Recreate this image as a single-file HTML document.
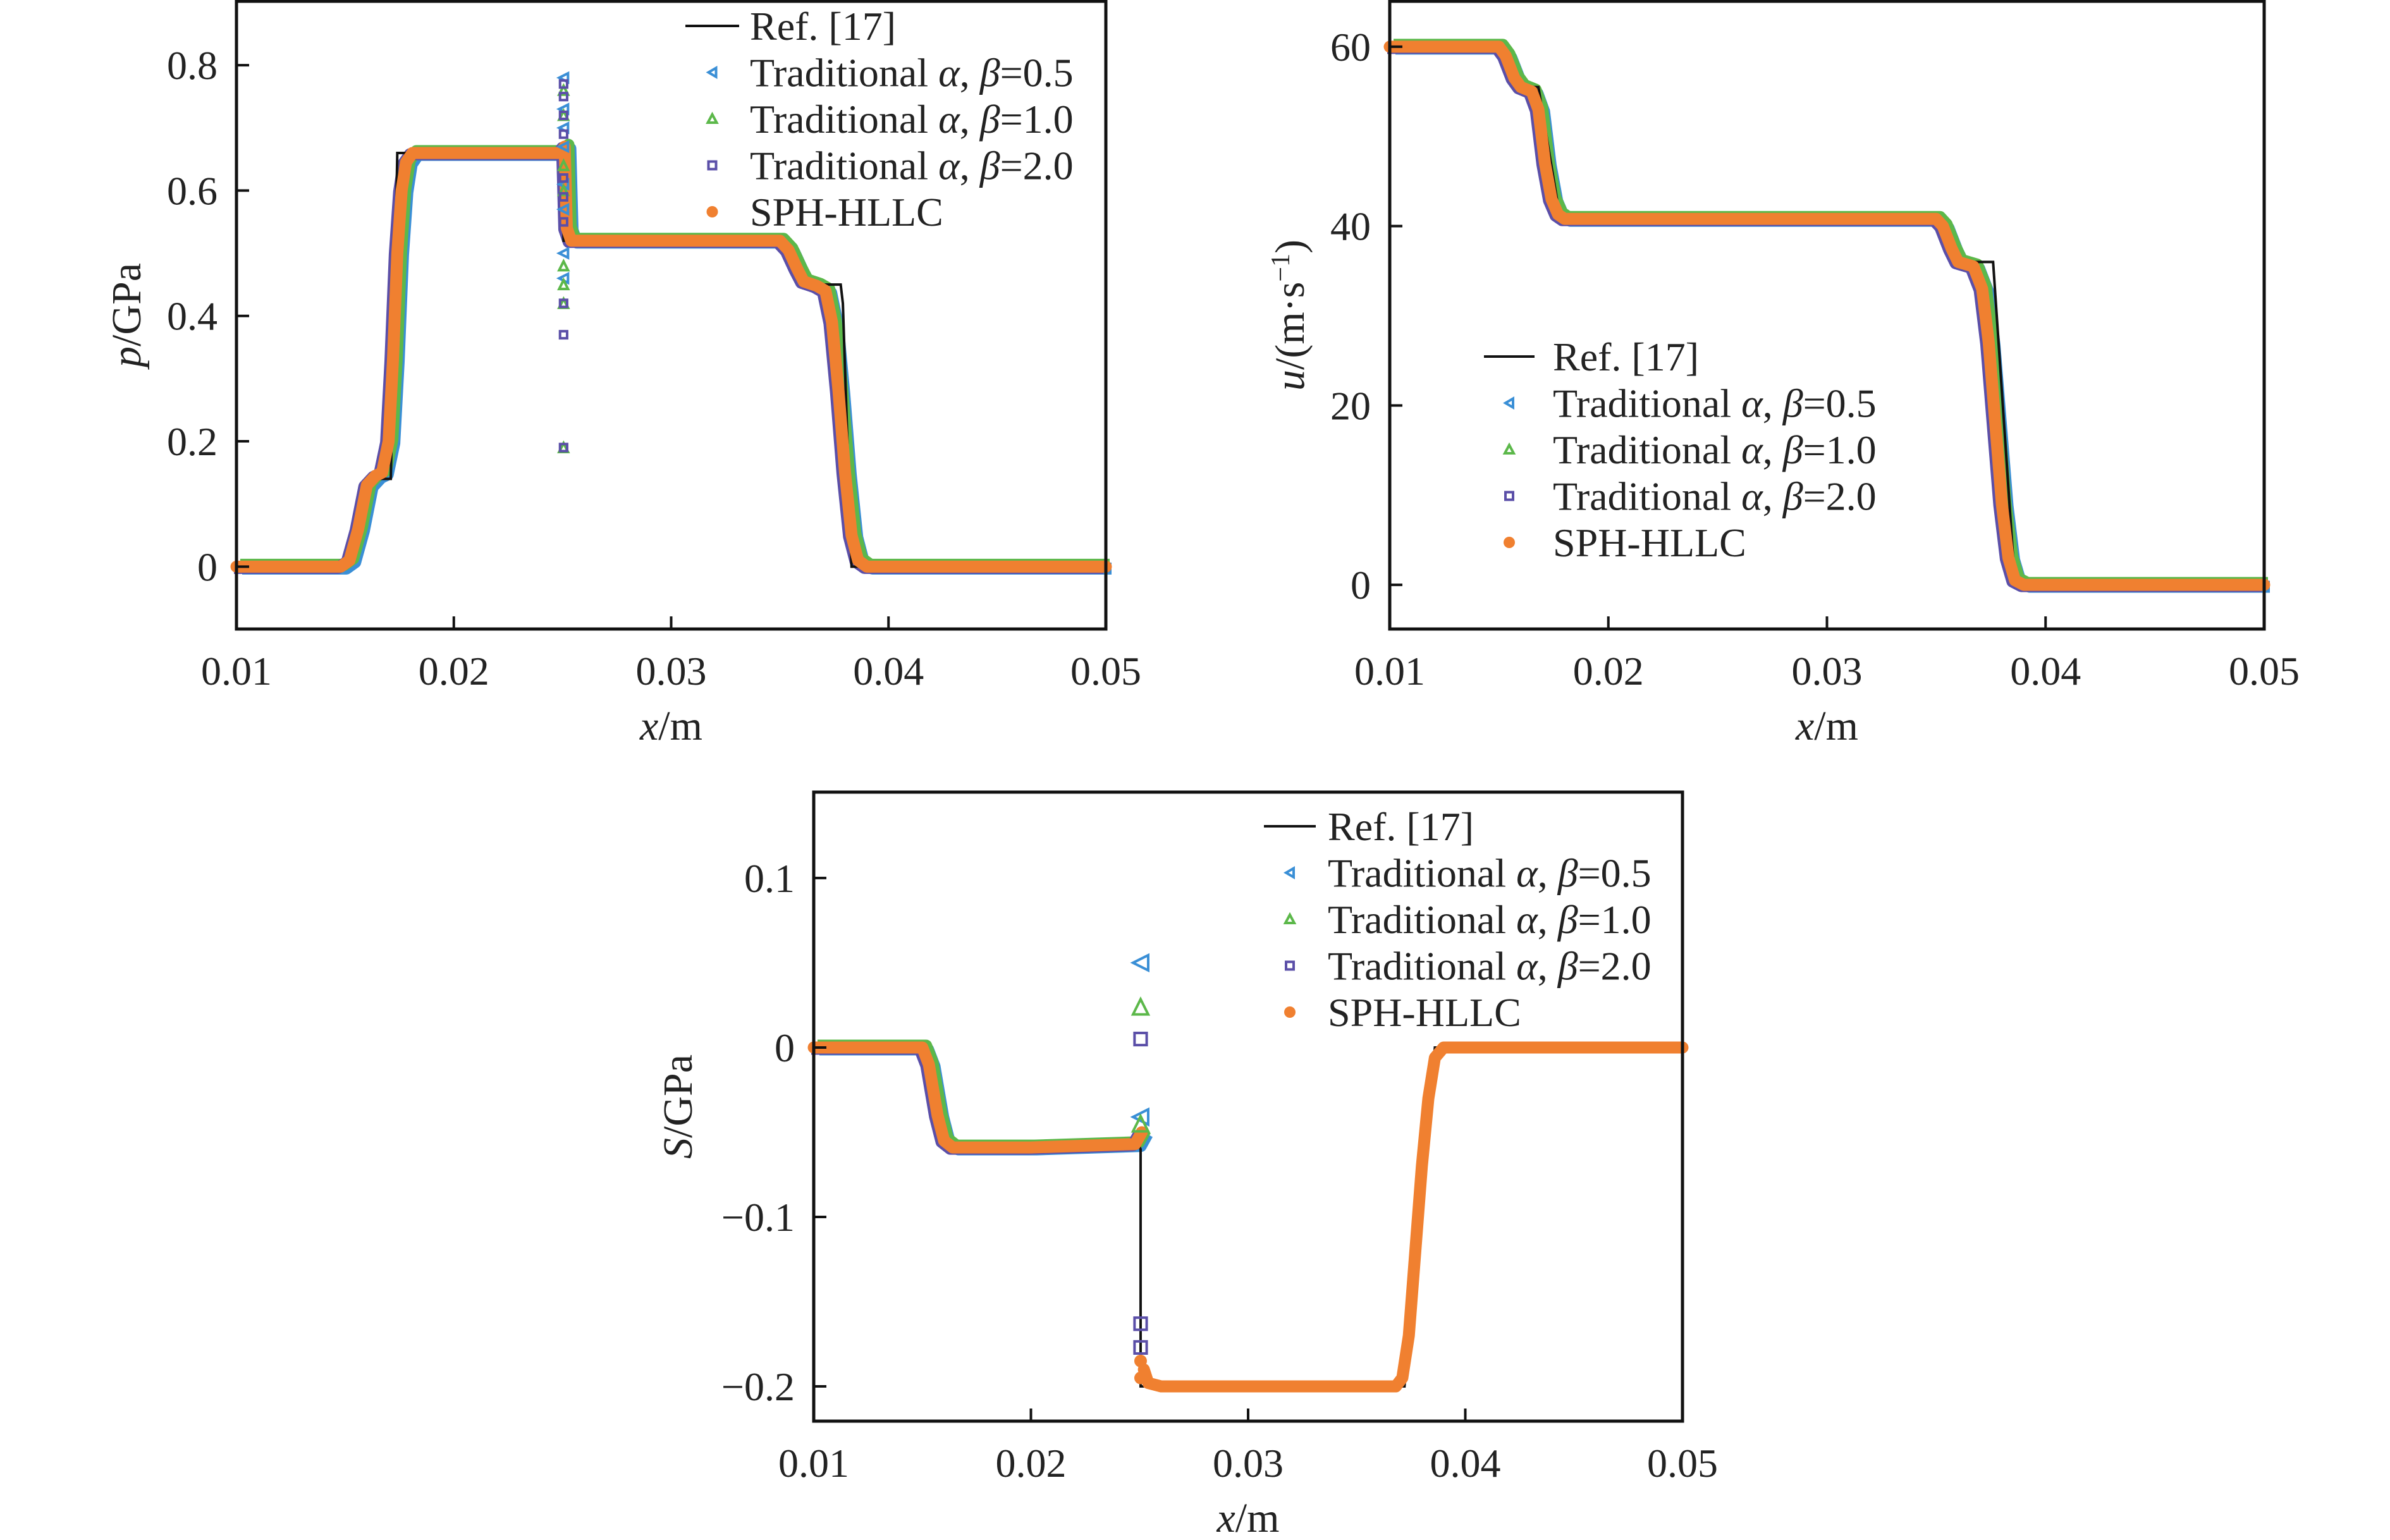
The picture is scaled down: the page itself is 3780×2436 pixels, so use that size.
<!DOCTYPE html>
<html><head><meta charset="utf-8"><style>
body{margin:0;background:#fff}
svg{display:block}
text{font-family:"Liberation Serif",serif;fill:#222}
</style></head><body>
<svg id="fig" width="3780" height="2436" viewBox="0 0 3780 2436" xmlns="http://www.w3.org/2000/svg"></svg>
<script>
// ---------- data ----------
const xTicks=[0.01,0.02,0.03,0.04,0.05];
const xTickLabels=["0.01","0.02","0.03","0.04","0.05"];
// pressure panel
const pTicks=[0,0.2,0.4,0.6,0.8];
const pTickLabels=["0","0.2","0.4","0.6","0.8"];
const pRefX=[0.01,0.0150,0.0160,0.0163,0.0171,0.0172,0.0174,0.0250,0.02505,0.0252,0.0352,0.0358,0.0362,0.0378,0.0379,0.0383,0.05];
const pRefY=[0,0,0.13,0.14,0.14,0.3,0.66,0.66,0.52,0.52,0.52,0.47,0.45,0.45,0.42,0,0];
const pSphX=[0.01,0.0148,0.0152,0.0156,0.0160,0.0164,0.0167,0.0170,0.0172,0.0174,0.0176,0.0178,0.0181,0.0185,0.0249,0.0251,0.0252,0.0254,0.0350,0.0354,0.0358,0.0361,0.0367,0.0371,0.0374,0.0377,0.0380,0.0383,0.0386,0.0390,0.05];
const pSphY=[0,0,0.01,0.06,0.13,0.145,0.15,0.2,0.33,0.5,0.6,0.645,0.66,0.66,0.66,0.67,0.54,0.52,0.52,0.505,0.475,0.455,0.448,0.44,0.39,0.28,0.15,0.05,0.01,0,0];
const pSpikeBlue=[0.78,0.73,0.70,0.67,0.61,0.57,0.50,0.46];
const pSpikeGreen=[0.76,0.72,0.64,0.60,0.48,0.45,0.42,0.19];
const pSpikePurple=[0.77,0.75,0.72,0.69,0.62,0.59,0.55,0.42,0.37,0.19];
// velocity panel
const uTicks=[0,20,40,60];
const uTickLabels=["0","20","40","60"];
const uRefX=[0.01,0.0150,0.0160,0.0168,0.0178,0.0352,0.0360,0.0376,0.0386,0.05];
const uRefY=[60,60,55.5,55.5,40.8,40.8,36,36,0,0];
const uSphX=[0.01,0.0150,0.0153,0.0157,0.0160,0.0165,0.0168,0.0171,0.0174,0.0177,0.0180,0.0350,0.0353,0.0357,0.0360,0.0367,0.0371,0.0374,0.0377,0.0380,0.0383,0.0386,0.0390,0.05];
const uSphY=[60,60,59,56.5,55.5,55,53,47,43,41.3,40.8,40.8,40,37.5,36,35.5,33,27,18,9,3,0.5,0,0];
// stress panel
const sTicks=[-0.2,-0.1,0,0.1];
const sTickLabels=["\u22120.2","\u22120.1","0","0.1"];
const sRefX=[0.01,0.0152,0.0162,0.0249,0.02505,0.02505,0.0372,0.0386,0.05];
const sRefY=[0,0,-0.058,-0.056,-0.06,-0.2,-0.2,0,0];
const sSphX=[0.01,0.0150,0.0153,0.0157,0.0160,0.0164,0.0200,0.0248,0.0251];
const sSphY=[0,0,-0.01,-0.04,-0.055,-0.059,-0.059,-0.057,-0.05];
const sSph2X=[0.0252,0.0254,0.0260,0.0368,0.0371,0.0374,0.0377,0.0380,0.0383,0.0386,0.0390,0.05];
const sSph2Y=[-0.19,-0.198,-0.2,-0.2,-0.195,-0.17,-0.12,-0.07,-0.03,-0.006,0,0];
const sSpikeBlue=[0.05,-0.041];
const sSpikeGreen=[0.024,-0.045];
const sSpikePurple=[0.005,-0.163,-0.177];

// ---------- drawing ----------
const NS="http://www.w3.org/2000/svg";
const svg=document.getElementById('fig');
const C={blue:"#3a8fd6",green:"#5cb84a",purple:"#5b4fa8",orange:"#f08030"};
const FS=64;
function el(t,a,p){const e=document.createElementNS(NS,t);for(const k in a)e.setAttribute(k,a[k]);(p||svg).appendChild(e);return e;}
function panel(o){
  const g=el('g',{});
  
  
  const sx=v=>o.L+(v-0.01)/(0.04)*(o.R-o.L);
  const sy=v=>o.B-(v-o.ymin)/(o.ymax-o.ymin)*(o.B-o.T);
  const pts=(X,Y,dx,dy)=>X.map((x,i)=>(sx(x)+(dx||0))+','+(sy(Y[i])+(dy||0))).join(' ');
  const s1=el('polyline',{points:pts(o.sx,o.sy,9,3),fill:'none',stroke:C.blue,'stroke-width':19,'stroke-linejoin':'round'},g);
  
  
  const s2=el('polyline',{points:pts(o.sx,o.sy,6,-3),fill:'none',stroke:C.green,'stroke-width':19,'stroke-linejoin':'round'},g);
  
  
  const s3=el('polyline',{points:pts(o.sx,o.sy,-4,2),fill:'none',stroke:C.purple,'stroke-width':19,'stroke-linejoin':'round'},g);
  
  
  const r=el('polyline',{points:pts(o.rx,o.ry),fill:'none',stroke:'#111','stroke-width':4},g);
  
  
  const s4=el('polyline',{points:pts(o.sx,o.sy),fill:'none',stroke:C.orange,'stroke-width':19,'stroke-linejoin':'round','stroke-linecap':'round'},g);
  
  
  if(o.sx2){const s5=el('polyline',{points:pts(o.sx2,o.sy2),fill:'none',stroke:C.orange,'stroke-width':19,'stroke-linejoin':'round','stroke-linecap':'round'},g);
  
  }
  const xs=sx(0.02505);
  o.spB.forEach(v=>{const m=el('path',{d:`M${xs+o.ms} ${sy(v)-o.ms} L${xs-o.ms} ${sy(v)} L${xs+o.ms} ${sy(v)+o.ms}Z`,fill:'none',stroke:C.blue,'stroke-width':4},g);
    
    });
  o.spG.forEach(v=>{const m=el('path',{d:`M${xs-o.ms} ${sy(v)+o.ms} L${xs} ${sy(v)-o.ms} L${xs+o.ms} ${sy(v)+o.ms}Z`,fill:'none',stroke:C.green,'stroke-width':4},g);
    
    });
  o.spP.forEach(v=>{const m=el('rect',{x:xs-o.ms*0.8,y:sy(v)-o.ms*0.8,width:o.ms*1.6,height:o.ms*1.6,fill:'none',stroke:C.purple,'stroke-width':4},g);
    
    });
  if(o.spO)o.spO.forEach(v=>{const m=el('circle',{cx:xs,cy:sy(v),r:10,fill:C.orange},g);
    
    });
  const f=el('rect',{x:o.L,y:o.T,width:o.R-o.L,height:o.B-o.T,fill:'none',stroke:'#111','stroke-width':5},g);
  
  
  xTicks.forEach((v,i)=>{const X=sx(v);
    el('line',{x1:X,x2:X,y1:o.B,y2:o.B-20,stroke:'#111','stroke-width':4},g);
    const t=el('text',{x:X,y:o.B+88,'font-size':FS,'text-anchor':'middle'},g);t.textContent=xTickLabels[i];
    
    });
  o.yt.forEach((v,i)=>{const Y=sy(v);
    el('line',{x1:o.L,x2:o.L+20,y1:Y,y2:Y,stroke:'#111','stroke-width':4},g);
    const t=el('text',{x:o.L-30,y:Y+22,'font-size':FS,'text-anchor':'end'},g);t.textContent=o.ytl[i];
    
    });
  const xl=el('text',{x:(o.L+o.R)/2,y:o.B+175,'font-size':66,'text-anchor':'middle'},g);
  xl.innerHTML='<tspan font-style="italic">x</tspan>/m';
  
  
  const yl=el('text',{x:0,y:0,'font-size':66,'text-anchor':'middle',transform:`translate(${o.ylx},${(o.T+o.B)/2}) rotate(-90)`},g);
  yl.innerHTML=o.ylab;
  
  
  const lg=el('g',{},g);
  
  
  const labels=['Ref. [17]','Traditional <tspan font-style="italic">α</tspan>, <tspan font-style="italic">β</tspan>=0.5','Traditional <tspan font-style="italic">α</tspan>, <tspan font-style="italic">β</tspan>=1.0','Traditional <tspan font-style="italic">α</tspan>, <tspan font-style="italic">β</tspan>=2.0','SPH-HLLC'];
  labels.forEach((lab,i)=>{const y=o.lgY+i*73.5;const mx=(o.lgL1+o.lgL2)/2;
    if(i==0)el('line',{x1:o.lgL1,x2:o.lgL2,y1:y,y2:y,stroke:'#111','stroke-width':4},lg);
    if(i==1)el('path',{d:`M${mx+6} ${y-7} L${mx-6} ${y} L${mx+6} ${y+7}Z`,fill:'none',stroke:C.blue,'stroke-width':4},lg);
    if(i==2)el('path',{d:`M${mx-7} ${y+6} L${mx} ${y-7} L${mx+7} ${y+6}Z`,fill:'none',stroke:C.green,'stroke-width':4},lg);
    if(i==3)el('rect',{x:mx-6,y:y-6,width:12,height:12,fill:'none',stroke:C.purple,'stroke-width':4},lg);
    if(i==4)el('circle',{cx:mx,cy:y,r:9,fill:C.orange},lg);
    const t=el('text',{x:o.lgT,y:y+22,'font-size':FS},lg);t.innerHTML=lab;
    
    });
}
panel({name:'pressure-panel',L:374,R:1749,T:2,B:995,ymin:-0.0995,ymax:0.902,yt:pTicks,ytl:pTickLabels,
  rx:pRefX,ry:pRefY,sx:pSphX,sy:pSphY,spB:pSpikeBlue,spG:pSpikeGreen,spP:pSpikePurple,ms:7,
  ylx:222,ylab:'<tspan font-style="italic">p</tspan>/GPa',lgY:41,lgL1:1084,lgL2:1169,lgT:1186});
panel({name:'velocity-panel',L:2198,R:3581,T:2,B:995,ymin:-4.93,ymax:65.07,yt:uTicks,ytl:uTickLabels,
  rx:uRefX,ry:uRefY,sx:uSphX,sy:uSphY,spB:[],spG:[],spP:[],ms:7,
  ylx:2062,ylab:'<tspan font-style="italic">u</tspan>/(m·s<tspan baseline-shift="super" font-size="42">−1</tspan>)',lgY:564,lgL1:2347,lgL2:2427,lgT:2456});
panel({name:'stress-panel',L:1287,R:2661,T:1253,B:2248,ymin:-0.2205,ymax:0.1507,yt:sTicks,ytl:sTickLabels,
  rx:sRefX,ry:sRefY,sx:sSphX,sy:sSphY,sx2:sSph2X,sy2:sSph2Y,spB:sSpikeBlue,spG:sSpikeGreen,spP:sSpikePurple,spO:[-0.185,-0.195],ms:12,
  ylx:1094,ylab:'<tspan font-style="italic">S</tspan>/GPa',lgY:1307,lgL1:1999,lgL2:2081,lgT:2100});
</script>
</body></html>
